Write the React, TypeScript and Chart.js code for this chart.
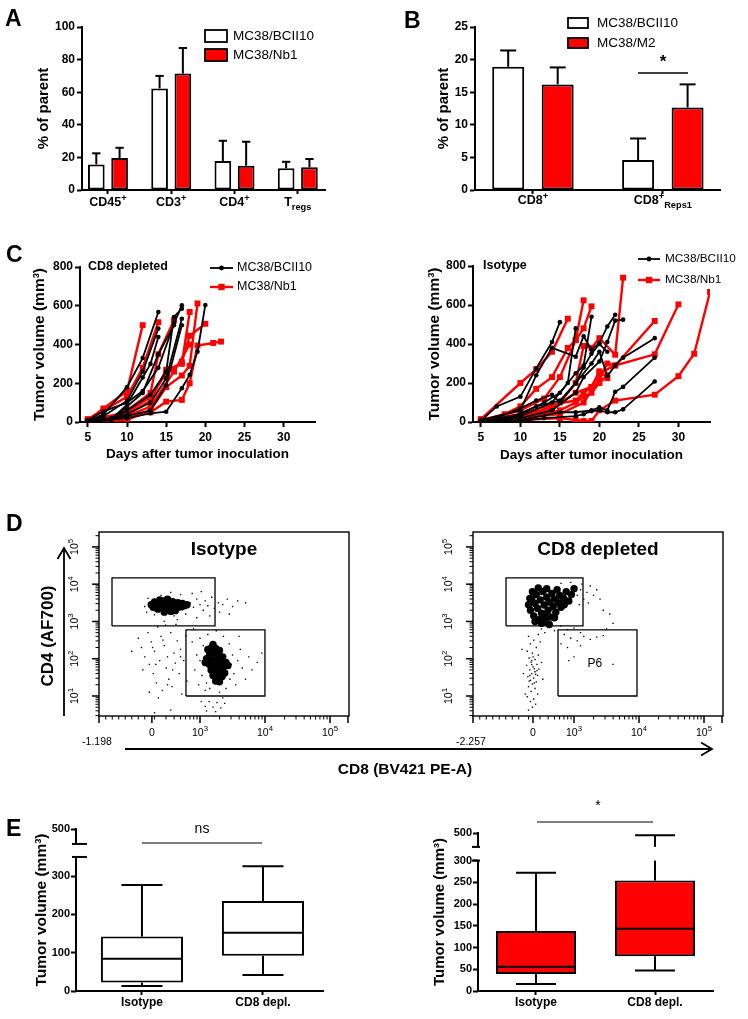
import React, { useEffect, useRef } from "react";
import { Chart, registerables } from "chart.js";

Chart.register(...registerables);

const FONT = "'Liberation Sans', Arial, Helvetica, sans-serif";
const BLACK = "#000000";
const RED = "#ff0000";
const WHITE = "#ffffff";
Chart.defaults.font.family = FONT;
Chart.defaults.color = BLACK;

// ---------------- Panel A ----------------
const A_CATEGORIES = ["CD45^+", "CD3^+", "CD4^+", "T_regs"];
const A_SERIES = ["MC38/BCII10", "MC38/Nb1"];
const A_BCII10 = [15.7, 62.3, 17.8, 13.3];
const A_BCII10_ERR = [6.8, 7.7, 12.4, 4.0];
const A_NB1 = [19.6, 71.4, 14.9, 13.9];
const A_NB1_ERR = [6.3, 15.7, 14.7, 5.1];
const A_Y_TICKS = [0, 20, 40, 60, 80, 100];

// ---------------- Panel B ----------------
const B_CATEGORIES = ["CD8^+", "CD8^+_Reps1"];
const B_SERIES = ["MC38/BCII10", "MC38/M2"];
const B_BCII10 = [18.9, 4.6];
const B_BCII10_ERR = [2.5, 3.3];
const B_M2 = [16.2, 12.65];
const B_M2_ERR = [2.6, 3.55];
const B_Y_TICKS = [0, 5, 10, 15, 20, 25];

// ---------------- Panel C ----------------
const C_SERIES = ["MC38/BCII10", "MC38/Nb1"];
const C_X_TICKS = [5, 10, 15, 20, 25, 30];
const C_Y_TICKS = [0, 200, 400, 600, 800];
const C_X_MIN = 4;
const C_X_MAX = 34;
// CD8 depleted, [day, volume]
const C_DEPL_BCII10 = [
  [[5, 5], [7, 40], [10, 180], [12, 330], [14, 568]],
  [[5, 10], [7, 30], [10, 110], [12, 260], [14, 482]],
  [[5, 8], [8, 15], [10, 90], [12, 230], [13, 300], [14, 439]],
  [[5, 10], [7, 55], [10, 100], [12, 160], [14, 280], [16, 507], [17, 602]],
  [[5, 5], [8, 10], [10, 60], [13, 140], [15, 260], [16, 542], [17, 585]],
  [[5, 10], [8, 20], [10, 40], [13, 100], [15, 225], [17, 533]],
  [[5, 0], [6, 5], [10, 30], [13, 60], [15, 190], [17, 499]],
  [[5, 5], [10, 20], [13, 45], [15, 53], [17, 174], [18, 243], [19, 363], [20, 604]],
  [[5, 0], [8, 10], [10, 80], [12, 150], [14, 350], [16, 500]],
];
const C_DEPL_NB1 = [
  [[5, 10], [7, 70], [10, 160], [12, 500]],
  [[5, 15], [7, 60], [10, 130], [12, 280], [14, 515]],
  [[5, 5], [8, 20], [10, 60], [13, 150], [14, 350], [16, 525]],
  [[5, 10], [10, 40], [13, 110], [15, 270], [17, 300], [18, 568]],
  [[5, 0], [10, 10], [13, 60], [15, 180], [17, 240], [18, 290], [19, 612]],
  [[5, 5], [10, 20], [13, 50], [15, 105], [17, 114], [18, 200], [19, 395], [21, 408], [22, 415]],
  [[5, 10], [10, 50], [13, 130], [15, 250], [17, 310], [18, 445], [20, 507]],
  [[5, 0], [8, 5], [10, 30], [13, 80], [16, 260], [18, 400]],
];
// Isotype
const C_ISO_BCII10 = [
  [[5, 5], [7, 80], [10, 130], [12, 275], [14, 410], [15, 512]],
  [[5, 10], [10, 60], [12, 240], [14, 380], [17, 335], [18, 440], [19, 370], [20, 405], [21, 490], [22, 550]],
  [[5, 0], [10, 40], [13, 100], [15, 150], [17, 250], [18, 290], [19, 540]],
  [[5, 5], [10, 30], [14, 100], [16, 200], [17, 480]],
  [[5, 0], [8, 10], [12, 80], [15, 110], [17, 200], [19, 300], [20, 360], [21, 235], [22, 290], [23, 330], [27, 430]],
  [[5, 5], [10, 20], [14, 60], [17, 150], [18, 230], [20, 310], [21, 410], [22, 520], [23, 525]],
  [[5, 0], [10, 10], [15, 50], [17, 50], [19, 60], [20, 75], [21, 60], [22, 155], [23, 180], [27, 330]],
  [[5, 0], [10, 5], [13, 20], [17, 30], [18, 40], [19, 55], [20, 60], [21, 50], [22, 50], [23, 65], [27, 208]],
  [[5, 10], [6, 5], [10, 70], [12, 110], [14, 140], [15, 100], [17, 200], [18, 280], [19, 350], [20, 400], [21, 360]],
];
const C_ISO_NB1 = [
  [[5, 15], [10, 200], [12, 270], [14, 360], [16, 530]],
  [[5, 10], [8, 40], [10, 80], [12, 170], [14, 230], [16, 380], [17, 420], [18, 624]],
  [[5, 5], [10, 60], [13, 120], [15, 230], [17, 420], [18, 480], [19, 593]],
  [[5, 0], [8, 10], [12, 50], [15, 100], [17, 200], [18, 390], [19, 380], [20, 430], [22, 345], [23, 740]],
  [[5, 10], [10, 30], [14, 70], [17, 150], [19, 180], [20, 250], [22, 290], [27, 518]],
  [[5, 5], [10, 20], [15, 40], [18, 100], [20, 220], [21, 300], [22, 290], [27, 347], [30, 603]],
  [[5, 0], [10, 10], [15, 20], [17, 10], [18, 5], [19, 5], [20, 60], [22, 110], [27, 140], [30, 235], [32, 350], [34, 667]],
  [[5, 10], [10, 40], [14, 90], [17, 110], [18, 150], [19, 180], [20, 260], [21, 225]],
  [[5, 0], [10, 15], [15, 60], [17, 100], [18, 130], [19, 150], [20, 200], [21, 240]],
];

// ---------------- Panel D (flow cytometry, display units: x ~ biexponential decades, y = log10) ----------------
const FLOW_X_MIN = 1.446;
const FLOW_X_MAX = 5.292;
const FLOW_Y_MIN = 0.463;
const FLOW_Y_MAX = 5.4;
const FLOW_Y_MAJOR = [1, 2, 3, 4, 5];
const FLOW_Y_LABELS = ["10^1", "10^2", "10^3", "10^4", "10^5"];
const FLOW_X_MAJOR = [3, 4, 5];
const FLOW_X_LABELS = ["10^3", "10^4", "10^5"];
const FLOW_X_LINEAR_MINOR = [1.55, 1.65, 1.75, 1.85, 1.95, 2.05, 2.15];
const ISO_ZERO = 2.26;
const DEPL_ZERO = 2.369;
const ISO_MIN_LABEL = "-1.198";
const DEPL_MIN_LABEL = "-2.257";
// gates: [x1, x2, y1, y2]
const ISO_GATES = [
  [1.646, 3.231, 2.879, 4.168],
  [2.784, 3.999, 1.0, 2.772],
];
const DEPL_GATES = [
  [1.954, 3.138, 2.879, 4.168],
  [2.754, 3.969, 1.0, 2.772],
];
const DEPL_GATE_LABEL = { text: "P6", x: 3.32, y: 1.86 };
const ISO_CORE = [
  [2.25, 3.45], [2.28, 3.38], [2.3, 3.52], [2.33, 3.42], [2.35, 3.33], [2.37, 3.5], [2.4, 3.44], [2.42, 3.37],
  [2.44, 3.55], [2.46, 3.46], [2.48, 3.31], [2.5, 3.4], [2.52, 3.5], [2.54, 3.44], [2.56, 3.35], [2.58, 3.53],
  [2.6, 3.42], [2.62, 3.47], [2.64, 3.36], [2.66, 3.5], [2.68, 3.43], [2.71, 3.39], [2.73, 3.48], [2.76, 3.42],
  [2.8, 3.45], [2.38, 3.58], [2.5, 3.6], [2.62, 3.29], [2.45, 3.25], [2.55, 3.27],
  [3.12, 2.25], [3.18, 2.3], [3.24, 2.28], [3.3, 2.22], [3.15, 2.12], [3.22, 2.15], [3.28, 2.1], [3.35, 2.05],
  [3.1, 2.0], [3.18, 1.98], [3.25, 1.95], [3.32, 1.92], [3.4, 1.9], [3.14, 1.85], [3.21, 1.82], [3.28, 1.8],
  [3.36, 1.78], [3.43, 1.82], [3.17, 1.7], [3.24, 1.66], [3.31, 1.68], [3.38, 1.62], [3.2, 1.55], [3.27, 1.5],
  [3.34, 1.52], [3.24, 1.4], [3.3, 1.38], [3.08, 1.9], [3.2, 2.38], [3.28, 2.02],
];
const ISO_SPARSE = [
  [2.85, 3.5], [2.9, 3.38], [2.95, 3.6], [3.0, 3.45], [3.05, 3.3], [3.08, 3.55], [3.12, 3.42], [3.18, 3.65],
  [3.22, 3.35], [3.28, 3.5], [3.35, 3.45], [3.42, 3.6], [3.5, 3.4], [3.58, 3.55], [3.7, 3.5], [3.02, 3.8],
  [2.88, 3.75], [2.7, 3.72], [2.55, 3.78], [2.4, 3.7], [2.2, 3.62], [2.15, 3.4], [2.18, 3.25], [2.3, 3.18],
  [2.6, 3.15], [2.78, 3.2], [2.95, 3.1], [3.15, 3.15], [3.3, 3.25], [3.45, 3.2], [2.65, 3.05], [2.45, 3.0],
  [2.05, 2.55], [2.1, 2.3], [2.15, 2.05], [2.2, 2.7], [2.22, 1.85], [2.25, 2.45], [2.28, 1.6], [2.3, 2.2],
  [2.33, 1.35], [2.35, 2.85], [2.38, 1.95], [2.4, 2.6], [2.42, 1.15], [2.45, 2.35], [2.48, 1.75], [2.5, 2.05],
  [2.52, 1.45], [2.55, 2.7], [2.57, 1.25], [2.6, 2.15], [2.62, 1.88], [2.65, 2.48], [2.68, 1.6], [2.7, 2.25],
  [2.72, 1.05], [2.75, 1.95], [2.78, 2.62], [2.8, 1.4], [2.22, 1.1], [2.36, 0.95], [2.12, 1.7], [1.95, 2.2],
  [2.47, 2.9], [2.63, 2.92], [2.27, 2.3], [2.43, 2.5], [2.58, 1.7], [2.7, 2.05], [2.32, 1.85], [2.5, 1.3],
  [2.88, 2.45], [2.92, 1.7], [2.95, 2.1], [2.98, 1.3], [3.0, 2.55], [3.03, 1.55], [3.05, 2.35], [3.08, 1.15],
  [3.45, 2.4], [3.5, 2.1], [3.52, 1.6], [3.55, 1.3], [3.58, 1.95], [3.62, 2.25], [3.65, 1.75], [3.7, 1.45],
  [3.75, 2.05], [3.8, 1.7], [3.88, 1.9], [3.95, 2.15], [3.4, 1.2], [3.3, 1.1], [3.15, 1.2], [3.36, 2.6],
  [3.12, 2.65], [3.25, 2.75], [2.9, 2.8], [3.6, 2.6], [3.48, 1.85], [3.0, 1.95], [3.46, 1.45], [3.1, 1.35],
  [3.02, 0.85], [3.08, 0.72], [3.14, 0.85], [3.2, 0.7], [3.26, 0.82], [3.32, 0.68], [3.38, 0.8], [3.1, 0.6],
  [3.24, 0.58], [3.35, 0.95], [2.55, 0.62], [2.3, 0.55],
];
const DEPL_CORE = [
  [2.3, 3.45], [2.33, 3.3], [2.35, 3.6], [2.38, 3.15], [2.4, 3.48], [2.42, 3.72], [2.44, 3.35], [2.46, 3.05],
  [2.48, 3.58], [2.5, 3.22], [2.52, 3.8], [2.54, 3.44], [2.56, 3.0], [2.58, 3.65], [2.6, 3.3], [2.62, 3.52],
  [2.64, 3.12], [2.66, 3.75], [2.68, 3.4], [2.7, 3.6], [2.72, 3.25], [2.74, 3.85], [2.76, 3.5], [2.78, 3.7],
  [2.8, 3.38], [2.84, 3.62], [2.88, 3.8], [2.92, 3.55], [2.96, 3.72], [3.0, 3.88], [2.36, 3.8], [2.45, 3.9],
  [2.58, 3.88], [2.5, 2.95], [2.62, 2.92], [2.4, 3.0], [2.85, 3.45], [2.32, 3.62], [2.7, 3.1], [2.55, 3.15],
];
const DEPL_SPARSE = [
  [3.05, 3.7], [3.1, 3.85], [3.15, 3.6], [3.2, 3.78], [3.25, 3.95], [3.3, 3.7], [3.08, 3.45], [3.22, 3.5],
  [3.35, 3.85], [3.4, 3.6], [3.12, 4.0], [2.95, 4.05], [2.8, 4.02], [3.45, 3.3], [3.55, 3.2], [3.6, 2.95],
  [3.5, 2.8], [2.5, 2.8], [2.55, 2.7], [2.6, 2.85], [2.7, 2.75], [2.8, 2.88], [2.9, 2.78], [3.0, 2.82],
  [3.1, 2.7], [2.45, 2.65],
  [2.3, 2.6], [2.38, 2.5], [2.33, 2.4], [2.42, 2.3], [2.28, 2.2], [2.36, 2.15], [2.45, 2.1], [2.31, 2.02],
  [2.4, 1.98], [2.34, 1.9], [2.43, 1.85], [2.27, 1.82], [2.37, 1.78], [2.46, 1.72], [2.32, 1.7], [2.4, 1.65],
  [2.35, 1.6], [2.44, 1.55], [2.29, 1.52], [2.38, 1.48], [2.33, 1.42], [2.42, 1.38], [2.36, 1.32], [2.3, 1.25],
  [2.4, 1.2], [2.34, 1.12], [2.44, 1.05], [2.28, 0.98], [2.38, 0.92], [2.33, 0.85], [2.41, 0.78], [2.36, 0.7],
  [2.3, 0.62], [2.2, 2.25], [2.22, 1.6], [2.5, 1.9], [2.52, 1.45], [2.25, 1.05], [2.48, 2.45], [2.39, 1.73],
  [2.35, 1.84], [2.41, 1.58], [2.37, 2.05], [2.32, 1.55], [2.39, 1.35], [2.35, 1.95], [2.43, 1.68], [2.31, 1.4],
  [2.85, 2.65], [2.95, 2.55], [3.05, 2.48], [3.15, 2.6], [3.25, 2.52], [3.35, 2.58], [3.45, 2.62], [2.9, 2.3],
  [3.0, 2.05], [2.92, 1.95], [3.6, 1.85], [2.8, 2.4], [3.1, 2.35],
];

// ---------------- Panel E ----------------
const E_CATEGORIES = ["Isotype", "CD8 depl."];
const E_LEFT_TICKS = [0, 100, 200, 300, 500];
const E_LEFT_MIN = [13, 42];
const E_LEFT_Q1 = [22, 92];
const E_LEFT_MED = [84, 152];
const E_LEFT_Q3 = [142, 235];
const E_LEFT_MAX = [277, 326];
const E_RIGHT_TICKS = [0, 50, 100, 150, 200, 250, 300, 500];
const E_RIGHT_MIN = [16, 47];
const E_RIGHT_Q1 = [39, 80];
const E_RIGHT_MED = [56, 143];
const E_RIGHT_Q3 = [138, 254];
const E_RIGHT_MAX = [272, 495];

// ---------------- helpers ----------------
type Box = number[];

function geom(box: Box, area: Box) {
  const [x, y, w, h] = box;
  const [l, t, r, b] = area;
  return { pad: { left: 0, top: t - y, right: x + w - r, bottom: 0 }, yW: l - x, xH: y + h - b };
}

const axisBorder = { display: true, color: BLACK, width: 2 };
const tickGrid = (len: number) => ({
  display: true,
  drawOnChartArea: false,
  drawTicks: true,
  tickLength: len,
  tickWidth: 2,
  tickColor: BLACK,
});

function parseRich(text: string) {
  const segs: { t: string; k: number }[] = [];
  let cur = "";
  let k = 0;
  for (const ch of text) {
    if (ch === "^" || ch === "_") {
      if (cur) segs.push({ t: cur, k });
      cur = "";
      k = ch === "^" ? 1 : 2;
    } else cur += ch;
  }
  if (cur) segs.push({ t: cur, k });
  return segs;
}

function drawRich(ctx: any, text: string, x: number, y: number, size: number, weight: string, align = "center", color = BLACK) {
  const segs = parseRich(text);
  const font = (k: number) => `${weight} ${k ? size * 0.74 : size}px ${FONT}`;
  const widths = segs.map((s) => {
    ctx.font = font(s.k);
    return ctx.measureText(s.t).width;
  });
  const total = widths.reduce((a, b) => a + b, 0);
  let cx = align === "center" ? x - total / 2 : align === "right" ? x - total : x;
  ctx.save();
  ctx.fillStyle = color;
  ctx.textAlign = "left";
  ctx.textBaseline = "middle";
  segs.forEach((s, i) => {
    ctx.font = font(s.k);
    const dy = s.k === 1 ? -size * 0.38 : s.k === 2 ? size * 0.32 : 0;
    ctx.fillText(s.t, cx, y + dy);
    cx += widths[i];
  });
  ctx.restore();
}

function seg(ctx: any, x1: number, y1: number, x2: number, y2: number) {
  ctx.beginPath();
  ctx.moveTo(x1, y1);
  ctx.lineTo(x2, y2);
  ctx.stroke();
}

function decadeMinors(n0: number, n1: number) {
  const out: number[] = [];
  for (let n = n0; n <= n1; n++) for (let k = 2; k <= 9; k++) out.push(n + Math.log10(k));
  return out;
}

// ---------------- bar panels (A, B) ----------------
function barPanel(p: any) {
  const g = geom(p.box, p.area);
  const ox = p.box[0];
  const oy = p.box[1];
  const errs = [p.e1, p.e2];
  const mk = (vals: number[], fill: string, name: string) => ({
    label: name,
    data: vals.map((v, i) => ({ x: i, y: v })),
    backgroundColor: fill,
    borderColor: BLACK,
    borderWidth: 2,
    borderSkipped: false,
    categoryPercentage: p.catPct,
    barPercentage: p.barPct,
  });
  return {
    type: "bar",
    data: { datasets: [mk(p.v1, WHITE, p.names[0]), mk(p.v2, RED, p.names[1])] },
    options: {
      responsive: false,
      animation: false,
      layout: { padding: g.pad },
      plugins: { legend: { display: false }, tooltip: { enabled: false } },
      scales: {
        x: {
          type: "linear",
          min: p.xMin,
          max: p.xMax,
          offset: false,
          afterBuildTicks: (s: any) => {
            s.ticks = p.cats.map((_: any, i: number) => ({ value: i }));
          },
          ticks: { display: false },
          grid: { ...tickGrid(4), offset: false },
          border: axisBorder,
          afterFit: (s: any) => {
            s.height = g.xH;
          },
        },
        y: {
          type: "linear",
          min: 0,
          max: p.yMax,
          afterBuildTicks: (s: any) => {
            s.ticks = p.yTicks.map((v: number) => ({ value: v }));
          },
          ticks: { font: { size: 12, weight: "bold" }, color: BLACK, padding: 2 },
          grid: tickGrid(5),
          border: axisBorder,
          title: {
            display: true,
            text: "% of parent",
            color: BLACK,
            font: { size: 15, weight: "bold" },
            padding: { top: p.titleCx - ox - 9, bottom: 0 },
          },
          afterFit: (s: any) => {
            s.width = g.yW;
          },
        },
      },
    },
    plugins: [
      {
        id: "barExtras",
        afterDatasetsDraw(chart: any) {
          const ctx = chart.ctx;
          const ys = chart.scales.y;
          ctx.save();
          ctx.strokeStyle = BLACK;
          ctx.lineWidth = 2;
          chart.data.datasets.forEach((ds: any, di: number) => {
            chart.getDatasetMeta(di).data.forEach((bar: any, i: number) => {
              const v = ds.data[i].y;
              const yv = ys.getPixelForValue(v);
              const yt = ys.getPixelForValue(v + errs[di][i]);
              const hw = bar.width / 4;
              seg(ctx, bar.x, yv, bar.x, yt);
              seg(ctx, bar.x - hw, yt, bar.x + hw, yt);
            });
          });
          ctx.restore();
        },
        afterDraw(chart: any) {
          const ctx = chart.ctx;
          const xs = chart.scales.x;
          p.cats.forEach((c: string, i: number) => drawRich(ctx, c, xs.getPixelForValue(i), p.labelY - oy, 12.5, "bold"));
          const L = p.legend;
          [WHITE, RED].forEach((fill, i) => {
            const y = (i === 0 ? L.y1 : L.y2) - oy;
            ctx.save();
            ctx.fillStyle = fill;
            ctx.strokeStyle = BLACK;
            ctx.lineWidth = 1.8;
            ctx.fillRect(L.x - ox, y - L.h / 2, L.w, L.h);
            ctx.strokeRect(L.x - ox, y - L.h / 2, L.w, L.h);
            ctx.restore();
            drawRich(ctx, p.names[i], L.tx - ox, y, L.size, "normal", "left");
          });
          if (p.sig) {
            const s = p.sig;
            ctx.save();
            ctx.strokeStyle = BLACK;
            ctx.lineWidth = 1.5;
            seg(ctx, s.x1 - ox, s.y - oy, s.x2 - ox, s.y - oy);
            ctx.restore();
            drawRich(ctx, s.text, s.tx - ox, s.ty - oy, 17, "bold");
          }
        },
      },
    ],
  };
}

// ---------------- growth panels (C) ----------------
function lineSets(series: number[][][], color: string, square: boolean) {
  return series.map((s) => ({
    data: s.map(([x, y]) => ({ x, y })),
    borderColor: color,
    backgroundColor: color,
    borderWidth: square ? 2.4 : 1.8,
    pointStyle: square ? "rect" : "circle",
    pointRadius: square ? 4.2 : 2.3,
    pointBorderWidth: 0,
    pointBackgroundColor: color,
    tension: 0,
    fill: false,
  }));
}

function growthPanel(p: any) {
  const g = geom(p.box, p.area);
  const ox = p.box[0];
  const oy = p.box[1];
  return {
    type: "line",
    data: { datasets: [...lineSets(p.black, BLACK, false), ...lineSets(p.red, RED, true)] },
    options: {
      responsive: false,
      animation: false,
      layout: { padding: g.pad },
      plugins: { legend: { display: false }, tooltip: { enabled: false } },
      scales: {
        x: {
          type: "linear",
          min: C_X_MIN,
          max: C_X_MAX,
          afterBuildTicks: (s: any) => {
            s.ticks = C_X_TICKS.map((v) => ({ value: v }));
          },
          ticks: { font: { size: 12, weight: "bold" }, color: BLACK, padding: 3, autoSkip: false, maxRotation: 0 },
          grid: tickGrid(5),
          border: axisBorder,
          title: {
            display: true,
            text: "Days after tumor inoculation",
            color: BLACK,
            font: { size: 13.5, weight: "bold" },
            padding: { top: 0, bottom: p.xTitlePad },
          },
          afterFit: (s: any) => {
            s.height = g.xH;
          },
        },
        y: {
          type: "linear",
          min: 0,
          max: 800,
          afterBuildTicks: (s: any) => {
            s.ticks = C_Y_TICKS.map((v) => ({ value: v }));
          },
          ticks: { font: { size: 12, weight: "bold" }, color: BLACK, padding: 2 },
          grid: tickGrid(5),
          border: axisBorder,
          title: {
            display: true,
            text: "Tumor volume (mm³)",
            color: BLACK,
            font: { size: 15.5, weight: "bold" },
            padding: { top: p.titleCx - ox - 9.3, bottom: 0 },
          },
          afterFit: (s: any) => {
            s.width = g.yW;
          },
        },
      },
    },
    plugins: [
      {
        id: "growthExtras",
        afterDraw(chart: any) {
          const ctx = chart.ctx;
          drawRich(ctx, p.title, p.titlePos[0] - ox, p.titlePos[1] - oy, 12.5, "bold", "left");
          const L = p.legend;
          [0, 1].forEach((i) => {
            const y = (i === 0 ? L.y1 : L.y2) - oy;
            const color = i === 0 ? BLACK : RED;
            const x1 = L.x1 - ox;
            const x2 = L.x2 - ox;
            const xm = (x1 + x2) / 2;
            ctx.save();
            ctx.strokeStyle = color;
            ctx.fillStyle = color;
            ctx.lineWidth = i === 0 ? 1.8 : 2.4;
            seg(ctx, x1, y, x2, y);
            if (i === 0) {
              ctx.beginPath();
              ctx.arc(xm, y, 2.4, 0, Math.PI * 2);
              ctx.fill();
            } else {
              ctx.fillRect(xm - 3.2, y - 3.2, 6.4, 6.4);
            }
            ctx.restore();
            drawRich(ctx, C_SERIES[i], L.tx - ox, y, L.size, "normal", "left");
          });
        },
      },
    ],
  };
}

// ---------------- flow panels (D) ----------------
function flowPanel(p: any) {
  const [bx, by, bw, bh] = p.box;
  const [l, t, r, b] = p.area;
  const pts = (a: number[][]) => a.map(([x, y]) => ({ x, y }));
  const yMinor = decadeMinors(0, 5);
  const xMinor = [...FLOW_X_LINEAR_MINOR, ...decadeMinors(2, 4)];
  return {
    type: "scatter",
    data: {
      datasets: [
        ...p.gates.map((gt: number[]) => ({
          data: [
            { x: gt[0], y: gt[2] },
            { x: gt[1], y: gt[2] },
            { x: gt[1], y: gt[3] },
            { x: gt[0], y: gt[3] },
            { x: gt[0], y: gt[2] },
          ],
          showLine: true,
          borderColor: BLACK,
          borderWidth: 1.3,
          pointRadius: 0,
          fill: false,
        })),
        { data: pts(p.core), pointRadius: 3.7, pointStyle: "circle", backgroundColor: BLACK, borderWidth: 0 },
        { data: pts(p.sparse), pointRadius: 0.95, pointStyle: "rect", backgroundColor: BLACK, borderWidth: 0 },
      ],
    },
    options: {
      responsive: false,
      animation: false,
      layout: { padding: { left: l - bx, top: t - by, right: bx + bw - r, bottom: by + bh - b } },
      plugins: { legend: { display: false }, tooltip: { enabled: false } },
      scales: {
        x: { type: "linear", display: false, min: FLOW_X_MIN, max: FLOW_X_MAX },
        y: { type: "linear", display: false, min: FLOW_Y_MIN, max: FLOW_Y_MAX },
      },
    },
    plugins: [
      {
        id: "flowAxes",
        afterDraw(chart: any) {
          const ctx = chart.ctx;
          const xs = chart.scales.x;
          const ys = chart.scales.y;
          const ca = chart.chartArea;
          ctx.save();
          ctx.strokeStyle = BLACK;
          ctx.lineWidth = 1.4;
          ctx.strokeRect(ca.left, ca.top, ca.right - ca.left, ca.bottom - ca.top);
          ctx.lineWidth = 1;
          yMinor.forEach((v) => {
            if (v > FLOW_Y_MIN && v < FLOW_Y_MAX) {
              const y = ys.getPixelForValue(v);
              seg(ctx, ca.left - 3.5, y, ca.left, y);
            }
          });
          FLOW_Y_MAJOR.forEach((v, i) => {
            const y = ys.getPixelForValue(v);
            ctx.lineWidth = 1.5;
            seg(ctx, ca.left - 7, y, ca.left, y);
            ctx.save();
            ctx.translate(ca.left - 24, y);
            ctx.rotate(-Math.PI / 2);
            drawRich(ctx, FLOW_Y_LABELS[i], 0, 0, 10.5, "normal");
            ctx.restore();
          });
          ctx.lineWidth = 1;
          xMinor.forEach((v) => {
            if (v > FLOW_X_MIN && v < FLOW_X_MAX) {
              const x = xs.getPixelForValue(v);
              seg(ctx, x, ca.bottom, x, ca.bottom + 3.5);
            }
          });
          ctx.lineWidth = 1.5;
          [p.zero, ...FLOW_X_MAJOR].forEach((v) => {
            const x = xs.getPixelForValue(v);
            seg(ctx, x, ca.bottom, x, ca.bottom + 7);
          });
          seg(ctx, ca.left, ca.bottom, ca.left, ca.bottom + 7);
          seg(ctx, ca.right - 1, ca.bottom, ca.right - 1, ca.bottom + 7);
          ctx.restore();
          drawRich(ctx, "0", xs.getPixelForValue(p.zero), ca.bottom + 17, 10.5, "normal");
          FLOW_X_MAJOR.forEach((v, i) => drawRich(ctx, FLOW_X_LABELS[i], xs.getPixelForValue(v), ca.bottom + 17, 10.5, "normal"));
          drawRich(ctx, p.minLabel, ca.left - 2, ca.bottom + 26, 10.5, "normal");
          drawRich(ctx, p.title, (ca.left + ca.right) / 2, ca.top + 18, 19, "bold");
          if (p.gateLabel) {
            drawRich(ctx, p.gateLabel.text, xs.getPixelForValue(p.gateLabel.x), ys.getPixelForValue(p.gateLabel.y), 12, "normal");
          }
        },
      },
    ],
  };
}

// ---------------- box panels (E) ----------------
function boxPanel(p: any) {
  const g = geom(p.box, p.area);
  const ox = p.box[0];
  const oy = p.box[1];
  const disp = (v: number) => (v <= p.brk ? v : p.brk + p.gap + (v - p.upMin));
  return {
    type: "bar",
    data: {
      datasets: [
        {
          data: p.q1.map((q: number, i: number) => ({ x: i, y: [disp(q), disp(p.q3[i])] })),
          backgroundColor: p.fill,
          borderColor: BLACK,
          borderWidth: 2,
          borderSkipped: false,
          categoryPercentage: 1,
          barPercentage: p.barPct,
        },
      ],
    },
    options: {
      responsive: false,
      animation: false,
      layout: { padding: g.pad },
      plugins: { legend: { display: false }, tooltip: { enabled: false } },
      scales: {
        x: {
          type: "linear",
          min: p.xMin,
          max: p.xMax,
          offset: false,
          afterBuildTicks: (s: any) => {
            s.ticks = E_CATEGORIES.map((_, i) => ({ value: i }));
          },
          ticks: { display: false },
          grid: { ...tickGrid(4), offset: false },
          border: axisBorder,
          afterFit: (s: any) => {
            s.height = g.xH;
          },
        },
        y: {
          type: "linear",
          min: 0,
          max: disp(p.yTop),
          afterBuildTicks: (s: any) => {
            s.ticks = p.ticks.map((v: number) => ({ value: disp(v) }));
          },
          ticks: {
            callback: (_v: any, i: number) => String(p.ticks[i]),
            font: { size: 11, weight: "bold" },
            color: BLACK,
            padding: 1,
          },
          grid: tickGrid(5),
          border: { display: false },
          title: {
            display: true,
            text: "Tumor volume (mm³)",
            color: BLACK,
            font: { size: p.titleSize, weight: "bold" },
            padding: { top: p.titleCx - ox - p.titleSize * 0.6, bottom: 0 },
          },
          afterFit: (s: any) => {
            s.width = g.yW;
          },
        },
      },
    },
    plugins: [
      {
        id: "boxExtras",
        afterDatasetsDraw(chart: any) {
          const ctx = chart.ctx;
          const ys = chart.scales.y;
          const Y = (v: number) => ys.getPixelForValue(disp(v));
          ctx.save();
          ctx.strokeStyle = BLACK;
          ctx.lineWidth = 2;
          chart.getDatasetMeta(0).data.forEach((bar: any, i: number) => {
            const x = bar.x;
            const hw = bar.width / 2;
            const cap = bar.width / 4;
            seg(ctx, x - hw, Y(p.med[i]), x + hw, Y(p.med[i]));
            if (p.max[i] > p.brk) {
              seg(ctx, x, Y(p.q3[i]), x, Y(p.brk));
              seg(ctx, x, Y(p.upMin), x, Y(p.max[i]));
            } else {
              seg(ctx, x, Y(p.q3[i]), x, Y(p.max[i]));
            }
            seg(ctx, x - cap, Y(p.max[i]), x + cap, Y(p.max[i]));
            seg(ctx, x, Y(p.q1[i]), x, Y(p.min[i]));
            seg(ctx, x - cap, Y(p.min[i]), x + cap, Y(p.min[i]));
          });
          ctx.restore();
        },
        afterDraw(chart: any) {
          const ctx = chart.ctx;
          const ys = chart.scales.y;
          const xs = chart.scales.x;
          const ca = chart.chartArea;
          const Y = (v: number) => ys.getPixelForValue(disp(v));
          ctx.save();
          ctx.strokeStyle = BLACK;
          ctx.lineWidth = 2;
          const x = ca.left;
          seg(ctx, x, ca.bottom + 1, x, Y(p.brk));
          seg(ctx, x, Y(p.upMin), x, Y(p.yTop) - 1);
          seg(ctx, x - p.barL, Y(p.brk), x + p.barR, Y(p.brk));
          seg(ctx, x - p.barL, Y(p.upMin), x + p.barR, Y(p.upMin));
          ctx.lineWidth = 1;
          seg(ctx, p.sig.x1 - ox, p.sig.y - oy, p.sig.x2 - ox, p.sig.y - oy);
          ctx.restore();
          drawRich(ctx, p.sig.text, p.sig.tx - ox, p.sig.ty - oy, 14, "normal");
          E_CATEGORIES.forEach((c, i) => drawRich(ctx, c, xs.getPixelForValue(i), p.labelY - oy, 12, "bold"));
        },
      },
    ],
  };
}

// ---------------- components ----------------
function ChartCanvas({ box, build }: { box: Box; build: () => any }) {
  const ref = useRef<HTMLCanvasElement | null>(null);
  useEffect(() => {
    if (!ref.current) return;
    const chart = new Chart(ref.current, build());
    return () => chart.destroy();
  }, []);
  return (
    <canvas
      ref={ref}
      width={box[2]}
      height={box[3]}
      style={{ position: "absolute", left: box[0], top: box[1], width: box[2], height: box[3] }}
    />
  );
}

const BOX_A = [0, 0, 370, 220];
const BOX_B = [370, 0, 378, 220];
const BOX_C1 = [0, 220, 370, 250];
const BOX_C2 = [370, 220, 378, 250];
const BOX_D1 = [0, 500, 370, 260];
const BOX_D2 = [370, 500, 378, 260];
const BOX_E1 = [0, 790, 370, 229];
const BOX_E2 = [370, 790, 378, 229];

export default function App() {
  return (
    <div style={{ position: "absolute", left: 0, top: 0, width: 748, height: 1019, background: WHITE, overflow: "hidden" }}>
      <ChartCanvas
        box={BOX_A}
        build={() =>
          barPanel({
            box: BOX_A, area: [82, 27, 325, 190], cats: A_CATEGORIES, names: A_SERIES,
            v1: A_BCII10, e1: A_BCII10_ERR, v2: A_NB1, e2: A_NB1_ERR, yMax: 100, yTicks: A_Y_TICKS,
            xMin: -0.41, xMax: 3.43, catPct: 0.736, barPct: 0.716, titleCx: 43.5, labelY: 203,
            legend: { x: 205, y1: 36, y2: 55, w: 22, h: 12, tx: 233, size: 13.5 },
          })
        }
      />
      <ChartCanvas
        box={BOX_B}
        build={() =>
          barPanel({
            box: BOX_B, area: [475, 27, 720, 190], cats: B_CATEGORIES, names: B_SERIES,
            v1: B_BCII10, e1: B_BCII10_ERR, v2: B_M2, e2: B_M2_ERR, yMax: 25, yTicks: B_Y_TICKS,
            xMin: -0.446, xMax: 1.44, catPct: 0.762, barPct: 0.646, titleCx: 444, labelY: 201,
            legend: { x: 568, y1: 23, y2: 43, w: 20, h: 10, tx: 597, size: 13.5 },
            sig: { x1: 638, x2: 688, y: 73, text: "*", tx: 663, ty: 62 },
          })
        }
      />
      <ChartCanvas
        box={BOX_C1}
        build={() =>
          growthPanel({
            box: BOX_C1, area: [80, 267, 315, 422], black: C_DEPL_BCII10, red: C_DEPL_NB1,
            title: "CD8 depleted", titlePos: [88, 267], titleCx: 40, xTitlePad: 8,
            legend: { x1: 210, x2: 233, tx: 237, y1: 268, y2: 287, size: 12.5 },
          })
        }
      />
      <ChartCanvas
        box={BOX_C2}
        build={() =>
          growthPanel({
            box: BOX_C2, area: [473, 266, 710, 422], black: C_ISO_BCII10, red: C_ISO_NB1,
            title: "Isotype", titlePos: [483, 266], titleCx: 435, xTitlePad: 7,
            legend: { x1: 638, x2: 660, tx: 665, y1: 259, y2: 280, size: 11.8 },
          })
        }
      />
      <ChartCanvas
        box={BOX_D1}
        build={() =>
          flowPanel({
            box: BOX_D1, area: [99, 532, 349, 716], core: ISO_CORE, sparse: ISO_SPARSE, gates: ISO_GATES,
            title: "Isotype", zero: ISO_ZERO, minLabel: ISO_MIN_LABEL,
          })
        }
      />
      <ChartCanvas
        box={BOX_D2}
        build={() =>
          flowPanel({
            box: BOX_D2, area: [473, 532, 723, 716], core: DEPL_CORE, sparse: DEPL_SPARSE, gates: DEPL_GATES,
            title: "CD8 depleted", zero: DEPL_ZERO, minLabel: DEPL_MIN_LABEL, gateLabel: DEPL_GATE_LABEL,
          })
        }
      />
      <ChartCanvas
        box={BOX_E1}
        build={() =>
          boxPanel({
            box: BOX_E1, area: [76, 829, 323, 991], fill: WHITE, ticks: E_LEFT_TICKS,
            min: E_LEFT_MIN, q1: E_LEFT_Q1, med: E_LEFT_MED, q3: E_LEFT_Q3, max: E_LEFT_MAX,
            brk: 350, gap: 34, upMin: 461, yTop: 500, xMin: -0.545, xMax: 1.496, barPct: 0.678,
            titleCx: 42, titleSize: 15.5, labelY: 1003, barL: 4, barR: 11,
            sig: { x1: 142, x2: 262, y: 843, text: "ns", tx: 202, ty: 829 },
          })
        }
      />
      <ChartCanvas
        box={BOX_E2}
        build={() =>
          boxPanel({
            box: BOX_E2, area: [478, 833, 713, 991], fill: RED, ticks: E_RIGHT_TICKS,
            min: E_RIGHT_MIN, q1: E_RIGHT_Q1, med: E_RIGHT_MED, q3: E_RIGHT_Q3, max: E_RIGHT_MAX,
            brk: 300, gap: 31.5, upMin: 468, yTop: 500, xMin: -0.487, xMax: 1.487, barPct: 0.672,
            titleCx: 440, titleSize: 15, labelY: 1003, barL: 6, barR: 2,
            sig: { x1: 537, x2: 653, y: 822, text: "*", tx: 598, ty: 806 },
          })
        }
      />
      <svg width={748} height={1019} style={{ position: "absolute", left: 0, top: 0, pointerEvents: "none" }}>
        <g fontFamily={FONT} fontWeight="bold" fontSize={23} fill={BLACK}>
          <text x={5} y={26}>A</text>
          <text x={404} y={28}>B</text>
          <text x={6} y={262}>C</text>
          <text x={6} y={531}>D</text>
          <text x={6} y={836}>E</text>
        </g>
        <line x1={64} y1={716} x2={64} y2={548} stroke={BLACK} strokeWidth={1.8} />
        <polyline points="57.5,559 64,548 70.5,559" fill="none" stroke={BLACK} strokeWidth={1.8} />
        <line x1={125} y1={749} x2={712} y2={749} stroke={BLACK} strokeWidth={1.8} />
        <polyline points="701,742.5 712,749 701,755.5" fill="none" stroke={BLACK} strokeWidth={1.8} />
        <text x={405} y={774} textAnchor="middle" fontFamily={FONT} fontWeight="bold" fontSize={15.5} fill={BLACK}>
          CD8 (BV421 PE-A)
        </text>
        <text
          transform="translate(47,636) rotate(-90)"
          textAnchor="middle"
          dominantBaseline="central"
          fontFamily={FONT}
          fontWeight="bold"
          fontSize={17}
          fill={BLACK}
        >
          CD4 (AF700)
        </text>
      </svg>
    </div>
  );
}
